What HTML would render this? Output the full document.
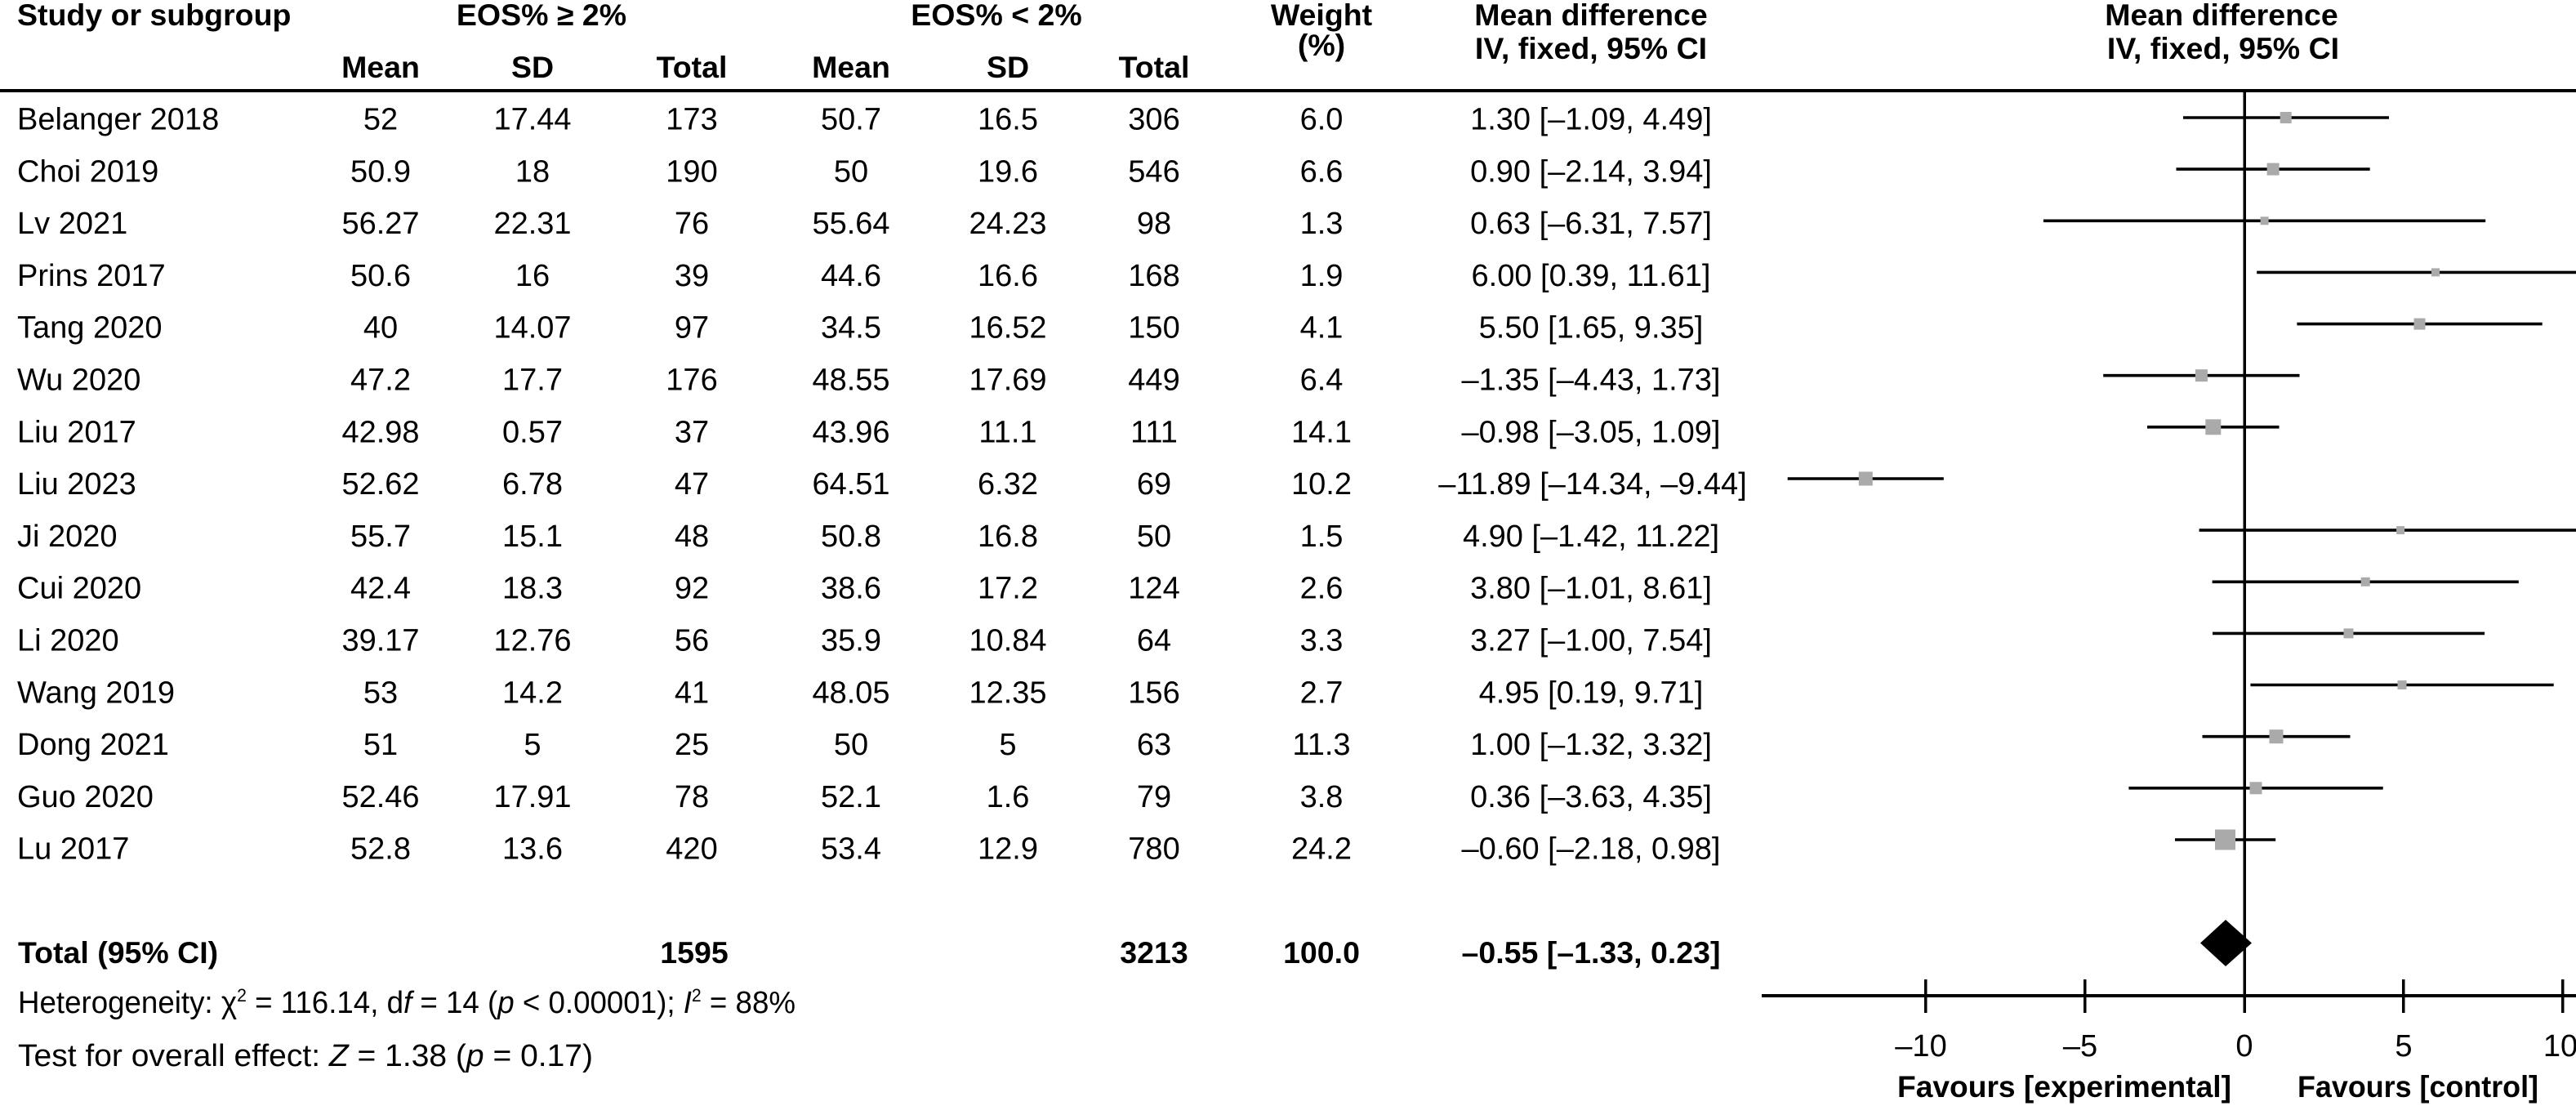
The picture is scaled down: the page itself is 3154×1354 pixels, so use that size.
<!DOCTYPE html>
<html>
<head>
<meta charset="utf-8">
<style>
html,body{margin:0;padding:0;background:#fff;}
svg{display:block;}
text{font-family:"Liberation Sans",Arial,sans-serif;fill:#000;}
.b{font-weight:bold;font-size:37.5px;}
.n{font-size:38px;}
.c{text-anchor:middle;}
</style>
</head>
<body>
<svg width="3154" height="1354" viewBox="0 0 3154 1354" xmlns="http://www.w3.org/2000/svg">
<rect x="0" y="0" width="3154" height="1354" fill="#fff"/>

<!-- Headers -->
<text class="b" x="21" y="31">Study or subgroup</text>
<text class="b c" x="663" y="31">EOS% ≥ 2%</text>
<text class="b c" x="1220" y="31">EOS% &lt; 2%</text>
<text class="b c" x="1618" y="31">Weight</text>
<text class="b c" x="1618" y="68">(%)</text>
<text class="b c" x="1948" y="31">Mean difference</text>
<text class="b c" x="1948" y="72">IV, fixed, 95% CI</text>
<text class="b c" x="2720" y="31">Mean difference</text>
<text class="b c" x="2722" y="72">IV, fixed, 95% CI</text>
<text class="b c" x="466" y="95">Mean</text>
<text class="b c" x="652" y="95">SD</text>
<text class="b c" x="847" y="95">Total</text>
<text class="b c" x="1042" y="95">Mean</text>
<text class="b c" x="1234" y="95">SD</text>
<text class="b c" x="1413" y="95">Total</text>

<rect x="0" y="109" width="3154" height="4" fill="#000"/>

<!-- Table rows -->
<g>
<text class="n" x="21" y="158.5">Belanger 2018</text>
<text class="n" x="21" y="222.3">Choi 2019</text>
<text class="n" x="21" y="286.1">Lv 2021</text>
<text class="n" x="21" y="349.9">Prins 2017</text>
<text class="n" x="21" y="413.7">Tang 2020</text>
<text class="n" x="21" y="477.5">Wu 2020</text>
<text class="n" x="21" y="541.3">Liu 2017</text>
<text class="n" x="21" y="605.1">Liu 2023</text>
<text class="n" x="21" y="668.9">Ji 2020</text>
<text class="n" x="21" y="732.7">Cui 2020</text>
<text class="n" x="21" y="796.5">Li 2020</text>
<text class="n" x="21" y="860.3">Wang 2019</text>
<text class="n" x="21" y="924.1">Dong 2021</text>
<text class="n" x="21" y="987.9">Guo 2020</text>
<text class="n" x="21" y="1051.7">Lu 2017</text>
</g>

<!-- Mean1 -->
<g>
<text class="n c" x="466" y="158.5">52</text>
<text class="n c" x="466" y="222.3">50.9</text>
<text class="n c" x="466" y="286.1">56.27</text>
<text class="n c" x="466" y="349.9">50.6</text>
<text class="n c" x="466" y="413.7">40</text>
<text class="n c" x="466" y="477.5">47.2</text>
<text class="n c" x="466" y="541.3">42.98</text>
<text class="n c" x="466" y="605.1">52.62</text>
<text class="n c" x="466" y="668.9">55.7</text>
<text class="n c" x="466" y="732.7">42.4</text>
<text class="n c" x="466" y="796.5">39.17</text>
<text class="n c" x="466" y="860.3">53</text>
<text class="n c" x="466" y="924.1">51</text>
<text class="n c" x="466" y="987.9">52.46</text>
<text class="n c" x="466" y="1051.7">52.8</text>
</g>
<!-- SD1 -->
<g>
<text class="n c" x="652" y="158.5">17.44</text>
<text class="n c" x="652" y="222.3">18</text>
<text class="n c" x="652" y="286.1">22.31</text>
<text class="n c" x="652" y="349.9">16</text>
<text class="n c" x="652" y="413.7">14.07</text>
<text class="n c" x="652" y="477.5">17.7</text>
<text class="n c" x="652" y="541.3">0.57</text>
<text class="n c" x="652" y="605.1">6.78</text>
<text class="n c" x="652" y="668.9">15.1</text>
<text class="n c" x="652" y="732.7">18.3</text>
<text class="n c" x="652" y="796.5">12.76</text>
<text class="n c" x="652" y="860.3">14.2</text>
<text class="n c" x="652" y="924.1">5</text>
<text class="n c" x="652" y="987.9">17.91</text>
<text class="n c" x="652" y="1051.7">13.6</text>
</g>
<!-- Total1 -->
<g>
<text class="n c" x="847" y="158.5">173</text>
<text class="n c" x="847" y="222.3">190</text>
<text class="n c" x="847" y="286.1">76</text>
<text class="n c" x="847" y="349.9">39</text>
<text class="n c" x="847" y="413.7">97</text>
<text class="n c" x="847" y="477.5">176</text>
<text class="n c" x="847" y="541.3">37</text>
<text class="n c" x="847" y="605.1">47</text>
<text class="n c" x="847" y="668.9">48</text>
<text class="n c" x="847" y="732.7">92</text>
<text class="n c" x="847" y="796.5">56</text>
<text class="n c" x="847" y="860.3">41</text>
<text class="n c" x="847" y="924.1">25</text>
<text class="n c" x="847" y="987.9">78</text>
<text class="n c" x="847" y="1051.7">420</text>
</g>
<!-- Mean2 -->
<g>
<text class="n c" x="1042" y="158.5">50.7</text>
<text class="n c" x="1042" y="222.3">50</text>
<text class="n c" x="1042" y="286.1">55.64</text>
<text class="n c" x="1042" y="349.9">44.6</text>
<text class="n c" x="1042" y="413.7">34.5</text>
<text class="n c" x="1042" y="477.5">48.55</text>
<text class="n c" x="1042" y="541.3">43.96</text>
<text class="n c" x="1042" y="605.1">64.51</text>
<text class="n c" x="1042" y="668.9">50.8</text>
<text class="n c" x="1042" y="732.7">38.6</text>
<text class="n c" x="1042" y="796.5">35.9</text>
<text class="n c" x="1042" y="860.3">48.05</text>
<text class="n c" x="1042" y="924.1">50</text>
<text class="n c" x="1042" y="987.9">52.1</text>
<text class="n c" x="1042" y="1051.7">53.4</text>
</g>
<!-- SD2 -->
<g>
<text class="n c" x="1234" y="158.5">16.5</text>
<text class="n c" x="1234" y="222.3">19.6</text>
<text class="n c" x="1234" y="286.1">24.23</text>
<text class="n c" x="1234" y="349.9">16.6</text>
<text class="n c" x="1234" y="413.7">16.52</text>
<text class="n c" x="1234" y="477.5">17.69</text>
<text class="n c" x="1234" y="541.3">11.1</text>
<text class="n c" x="1234" y="605.1">6.32</text>
<text class="n c" x="1234" y="668.9">16.8</text>
<text class="n c" x="1234" y="732.7">17.2</text>
<text class="n c" x="1234" y="796.5">10.84</text>
<text class="n c" x="1234" y="860.3">12.35</text>
<text class="n c" x="1234" y="924.1">5</text>
<text class="n c" x="1234" y="987.9">1.6</text>
<text class="n c" x="1234" y="1051.7">12.9</text>
</g>
<!-- Total2 -->
<g>
<text class="n c" x="1413" y="158.5">306</text>
<text class="n c" x="1413" y="222.3">546</text>
<text class="n c" x="1413" y="286.1">98</text>
<text class="n c" x="1413" y="349.9">168</text>
<text class="n c" x="1413" y="413.7">150</text>
<text class="n c" x="1413" y="477.5">449</text>
<text class="n c" x="1413" y="541.3">111</text>
<text class="n c" x="1413" y="605.1">69</text>
<text class="n c" x="1413" y="668.9">50</text>
<text class="n c" x="1413" y="732.7">124</text>
<text class="n c" x="1413" y="796.5">64</text>
<text class="n c" x="1413" y="860.3">156</text>
<text class="n c" x="1413" y="924.1">63</text>
<text class="n c" x="1413" y="987.9">79</text>
<text class="n c" x="1413" y="1051.7">780</text>
</g>
<!-- Weight -->
<g>
<text class="n c" x="1618" y="158.5">6.0</text>
<text class="n c" x="1618" y="222.3">6.6</text>
<text class="n c" x="1618" y="286.1">1.3</text>
<text class="n c" x="1618" y="349.9">1.9</text>
<text class="n c" x="1618" y="413.7">4.1</text>
<text class="n c" x="1618" y="477.5">6.4</text>
<text class="n c" x="1618" y="541.3">14.1</text>
<text class="n c" x="1618" y="605.1">10.2</text>
<text class="n c" x="1618" y="668.9">1.5</text>
<text class="n c" x="1618" y="732.7">2.6</text>
<text class="n c" x="1618" y="796.5">3.3</text>
<text class="n c" x="1618" y="860.3">2.7</text>
<text class="n c" x="1618" y="924.1">11.3</text>
<text class="n c" x="1618" y="987.9">3.8</text>
<text class="n c" x="1618" y="1051.7">24.2</text>
</g>
<!-- MD -->
<g>
<text class="n c" x="1948" y="158.5">1.30 [–1.09, 4.49]</text>
<text class="n c" x="1948" y="222.3">0.90 [–2.14, 3.94]</text>
<text class="n c" x="1948" y="286.1">0.63 [–6.31, 7.57]</text>
<text class="n c" x="1948" y="349.9">6.00 [0.39, 11.61]</text>
<text class="n c" x="1948" y="413.7">5.50 [1.65, 9.35]</text>
<text class="n c" x="1948" y="477.5">–1.35 [–4.43, 1.73]</text>
<text class="n c" x="1948" y="541.3">–0.98 [–3.05, 1.09]</text>
<text class="n c" x="1950" y="605.1">–11.89 [–14.34, –9.44]</text>
<text class="n c" x="1948" y="668.9">4.90 [–1.42, 11.22]</text>
<text class="n c" x="1948" y="732.7">3.80 [–1.01, 8.61]</text>
<text class="n c" x="1948" y="796.5">3.27 [–1.00, 7.54]</text>
<text class="n c" x="1948" y="860.3">4.95 [0.19, 9.71]</text>
<text class="n c" x="1948" y="924.1">1.00 [–1.32, 3.32]</text>
<text class="n c" x="1948" y="987.9">0.36 [–3.63, 4.35]</text>
<text class="n c" x="1948" y="1051.7">–0.60 [–2.18, 0.98]</text>
</g>

<!-- Total row -->
<text class="b" x="22" y="1179">Total (95% CI)</text>
<text class="b c" x="850" y="1179">1595</text>
<text class="b c" x="1413" y="1179">3213</text>
<text class="b c" x="1618" y="1179">100.0</text>
<text class="b c" x="1948" y="1179">–0.55 [–1.33, 0.23]</text>

<text class="n" x="22" y="1240" textLength="952" lengthAdjust="spacingAndGlyphs">Heterogeneity: χ<tspan dy="-14" font-size="22">2</tspan><tspan dy="14"> = 116.14, d</tspan><tspan font-style="italic">f</tspan> = 14 (<tspan font-style="italic">p</tspan> &lt; 0.00001); <tspan font-style="italic">I</tspan><tspan dy="-14" font-size="22">2</tspan><tspan dy="14"> = 88%</tspan></text>
<text class="n" x="22" y="1305" textLength="704" lengthAdjust="spacingAndGlyphs">Test for overall effect: <tspan font-style="italic">Z</tspan> = 1.38 (<tspan font-style="italic">p</tspan> = 0.17)</text>

<!-- Forest plot -->
<rect x="2746.5" y="111" width="3.5" height="1110" fill="#000"/>
<g stroke="#000" stroke-width="3.6">
<line x1="2673" y1="144" x2="2925" y2="144"/>
<line x1="2664.5" y1="207.1" x2="2901.7" y2="207.1"/>
<line x1="2501.9" y1="270.3" x2="3043.2" y2="270.3"/>
<line x1="2763.2" y1="333.4" x2="3154" y2="333.4"/>
<line x1="2812.4" y1="396.6" x2="3112.7" y2="396.6"/>
<line x1="2575.2" y1="459.7" x2="2815.5" y2="459.7"/>
<line x1="2629" y1="522.8" x2="2790.5" y2="522.8"/>
<line x1="2188.7" y1="586" x2="2379.8" y2="586"/>
<line x1="2692.6" y1="649.1" x2="3154" y2="649.1"/>
<line x1="2708.6" y1="712.3" x2="3083.8" y2="712.3"/>
<line x1="2709" y1="775.4" x2="3042.1" y2="775.4"/>
<line x1="2755.4" y1="838.5" x2="3126.7" y2="838.5"/>
<line x1="2696.5" y1="901.7" x2="2877.5" y2="901.7"/>
<line x1="2606.4" y1="964.8" x2="2917.7" y2="964.8"/>
<line x1="2663" y1="1028" x2="2786.2" y2="1028"/>
</g>
<g fill="#aaaaaa">
<rect x="2791.7" y="137" width="14" height="14"/>
<rect x="2775.6" y="199.6" width="15" height="15"/>
<rect x="2767.6" y="265.3" width="10" height="10"/>
<rect x="2977" y="328.4" width="10" height="10"/>
<rect x="2955.5" y="389.6" width="14" height="14"/>
<rect x="2687.9" y="452.2" width="15" height="15"/>
<rect x="2700.3" y="513.3" width="19" height="19"/>
<rect x="2275.8" y="577.5" width="17" height="17"/>
<rect x="2934.1" y="644.1" width="10" height="10"/>
<rect x="2890.7" y="706.8" width="11" height="11"/>
<rect x="2869.5" y="769.4" width="12" height="12"/>
<rect x="2935.5" y="833" width="11" height="11"/>
<rect x="2778.5" y="893.2" width="17" height="17"/>
<rect x="2754.5" y="957.3" width="15" height="15"/>
<rect x="2712" y="1015.5" width="25" height="25"/>
</g>
<polygon points="2694,1154.5 2725,1126 2757,1154.5 2725,1183" fill="#000"/>

<!-- Axis -->
<rect x="2157" y="1217" width="997" height="4" fill="#000"/>
<g fill="#000">
<rect x="2356" y="1199" width="3.5" height="41"/>
<rect x="2551" y="1199" width="3.5" height="41"/>
<rect x="2746.5" y="1199" width="3.5" height="41"/>
<rect x="2941" y="1199" width="3.5" height="41"/>
<rect x="3136" y="1199" width="3.5" height="41"/>
</g>
<text class="n c" x="2352" y="1293">–10</text>
<text class="n c" x="2547" y="1293">–5</text>
<text class="n c" x="2748" y="1293">0</text>
<text class="n c" x="2943" y="1293">5</text>
<text class="n c" x="3135" y="1293">10</text>
<text class="b" x="2323" y="1343" textLength="409" lengthAdjust="spacingAndGlyphs">Favours [experimental]</text>
<text class="b" x="2813" y="1343" textLength="295" lengthAdjust="spacingAndGlyphs">Favours [control]</text>
</svg>
</body>
</html>
